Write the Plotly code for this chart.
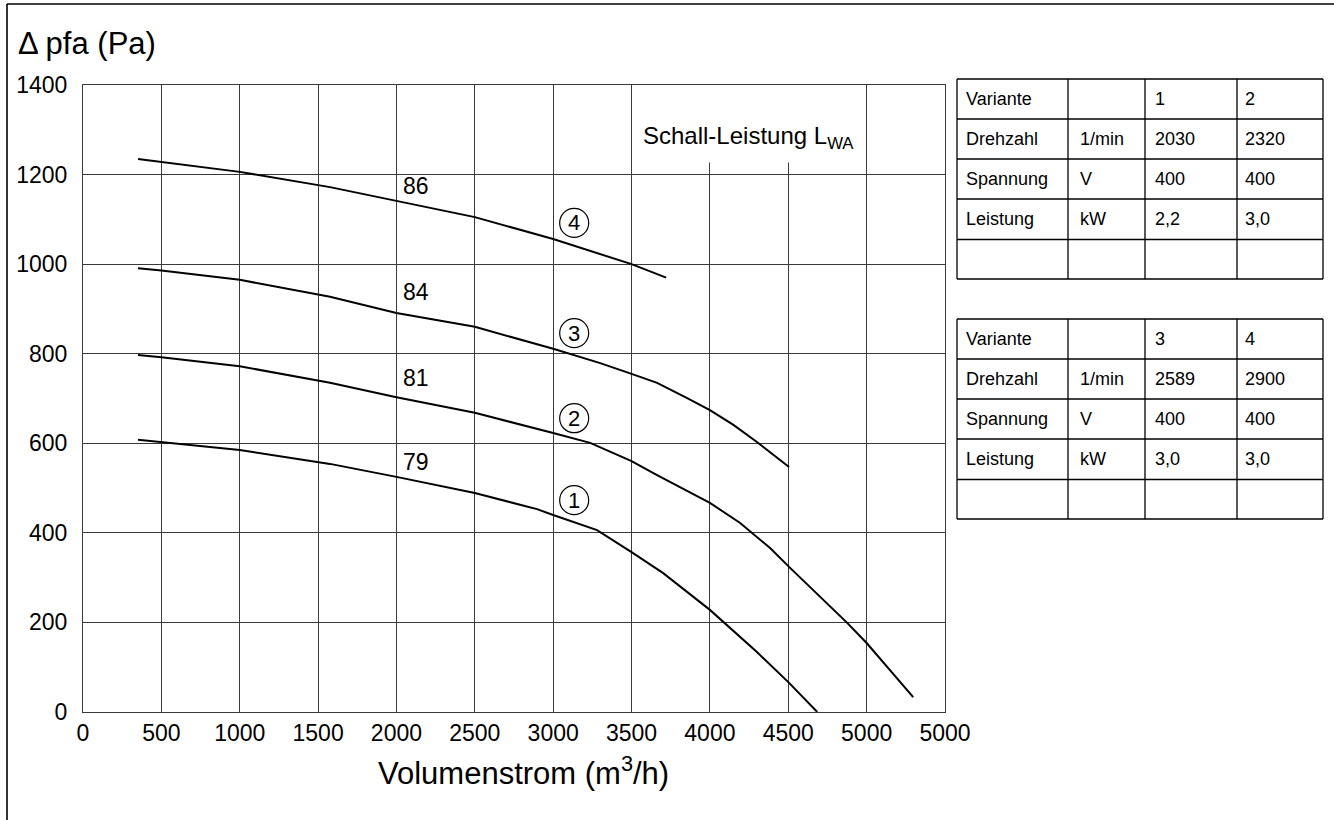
import plotly.graph_objects as go

# ---------------- data ----------------
x_ticks = [0, 500, 1000, 1500, 2000, 2500, 3000, 3500, 4000, 4500, 5000, 5500]
x_ticktext = ["0", "500", "1000", "1500", "2000", "2500", "3000", "3500", "4000", "4500", "5000", "5000"]
y_ticks = [0, 200, 400, 600, 800, 1000, 1200, 1400]

c1_x = [351, 500, 1000, 1576, 2000, 2500, 2897, 3000, 3280, 3500, 3702, 4000, 4300, 4505, 4685]
c1_y = [608, 603, 585, 554, 525, 489, 453, 440, 406, 357, 310, 228, 134, 65, 0]

c2_x = [351, 500, 1000, 1576, 2000, 2500, 3000, 3236, 3500, 3663, 4000, 4193, 4384, 4505, 4876, 5000, 5297]
c2_y = [797, 792, 772, 735, 703, 668, 623, 601, 560, 529, 467, 422, 366, 324, 199, 154, 33]

c3_x = [351, 500, 1000, 1576, 2000, 2500, 3000, 3300, 3500, 3663, 3855, 4000, 4150, 4300, 4505]
c3_y = [991, 986, 965, 927, 891, 860, 811, 779, 755, 735, 701, 674, 641, 603, 547]

c4_x = [351, 500, 1000, 1576, 2000, 2500, 3000, 3300, 3500, 3721]
c4_y = [1235, 1228, 1206, 1172, 1142, 1105, 1056, 1023, 1000, 970]

curve_x = [c1_x, c2_x, c3_x, c4_x]
curve_y = [c1_y, c2_y, c3_y, c4_y]

level_labels = ["79", "81", "84", "86"]
level_x = [2125, 2125, 2125, 2125]
level_y = [558, 746, 938, 1175]

variant_ids = ["1", "2", "3", "4"]
variant_x = [3134, 3134, 3134, 3134]
variant_y = [473, 656, 846, 1092]

row_names = ["Variante", "Drehzahl", "Spannung", "Leistung", ""]
row_units = ["", "1/min", "V", "kW", ""]
table1_v1 = ["1", "2030", "400", "2,2", ""]
table1_v2 = ["2", "2320", "400", "3,0", ""]
table2_v1 = ["3", "2589", "400", "3,0", ""]
table2_v2 = ["4", "2900", "400", "3,0", ""]

FONT = "Liberation Sans, Arial, Helvetica, sans-serif"

# ---------------- layout geometry (pixels) ----------------
W, H = 1334, 820
PL, PR, PT, PB = 83, 945, 85, 712


def px(xp):
    return (xp - PL) / (PR - PL)


def py(yp):
    return (PB - yp) / (PB - PT)


fig = go.Figure()

for cx, cy in zip(curve_x, curve_y):
    fig.add_trace(go.Scatter(x=cx, y=cy, mode="lines",
                             line=dict(color="black", width=2),
                             showlegend=False, hoverinfo="skip"))

shapes = []
annotations = []

# white box behind "Schall-Leistung" label (covers grid lines)
shapes.append(dict(type="rect", xref="x", yref="y", x0=3512, x1=4988, y0=1227, y1=1400,
                   fillcolor="white", line=dict(width=0), layer="between"))

annotations.append(dict(xref="x", yref="y", x=3558, y=1283, xanchor="left", yanchor="middle",
                        text="Schall-Leistung L<sub>WA</sub>", showarrow=False,
                        font=dict(family=FONT, size=24, color="black")))

# level labels
for t, lx, ly in zip(level_labels, level_x, level_y):
    annotations.append(dict(xref="x", yref="y", x=lx, y=ly, text=t, showarrow=False,
                            xanchor="center", yanchor="middle",
                            font=dict(family=FONT, size=23, color="black")))

# circled variant numbers
for t, vx, vy in zip(variant_ids, variant_x, variant_y):
    shapes.append(dict(type="circle", xref="x", yref="y", xsizemode="pixel", ysizemode="pixel",
                       xanchor=vx, yanchor=vy, x0=-14.5, x1=14.5, y0=-14.5, y1=14.5,
                       line=dict(color="black", width=1.2), fillcolor="white", layer="above"))
    annotations.append(dict(xref="x", yref="y", x=vx, y=vy, text=t, showarrow=False,
                            xanchor="center", yanchor="middle",
                            font=dict(family=FONT, size=22, color="black")))

# titles
annotations.append(dict(xref="paper", yref="paper", x=px(16), y=py(44), xanchor="left", yanchor="middle",
                        text="\u0394 pfa (Pa)", showarrow=False,
                        font=dict(family=FONT, size=31, color="black")))
annotations.append(dict(xref="paper", yref="paper", x=px(523), y=py(771), xanchor="center", yanchor="middle",
                        text="Volumenstrom (m<sup>3</sup>/h)", showarrow=False,
                        font=dict(family=FONT, size=31, color="black")))

# outer border (top and left)
shapes.append(dict(type="line", xref="paper", yref="paper", x0=px(7), x1=px(1340), y0=py(4), y1=py(4),
                   line=dict(color="black", width=1.6)))
shapes.append(dict(type="line", xref="paper", yref="paper", x0=px(7), x1=px(7), y0=py(4), y1=py(830),
                   line=dict(color="black", width=1.6)))

# tables
col_x = [957, 1068, 1145, 1237, 1323]
text_off = [7, 10, 8, 6]
row_h = [40, 40, 40, 40.5, 39.5]


def add_table(top, v1, v2):
    ys = [top]
    for h in row_h:
        ys.append(ys[-1] + h)
    for yv in ys:
        shapes.append(dict(type="line", xref="paper", yref="paper", x0=px(col_x[0]), x1=px(col_x[-1]),
                           y0=py(yv), y1=py(yv), line=dict(color="black", width=1.3)))
    for xv in col_x:
        shapes.append(dict(type="line", xref="paper", yref="paper", x0=px(xv), x1=px(xv),
                           y0=py(ys[0]), y1=py(ys[-1]), line=dict(color="black", width=1.3)))
    cols = [row_names, row_units, v1, v2]
    for ci, col in enumerate(cols):
        for ri, val in enumerate(col):
            if not val:
                continue
            yc = (ys[ri] + ys[ri + 1]) / 2
            annotations.append(dict(xref="paper", yref="paper", x=px(col_x[ci] + text_off[ci]), y=py(yc),
                                    xanchor="left", yanchor="middle", text=val, showarrow=False,
                                    font=dict(family=FONT, size=18, color="black")))


add_table(79, table1_v1, table1_v2)
add_table(319, table2_v1, table2_v2)

fig.update_layout(
    width=W, height=H, autosize=False,
    margin=dict(l=PL, r=W - PR, t=PT, b=H - PB),
    paper_bgcolor="white", plot_bgcolor="white",
    shapes=shapes, annotations=annotations,
    font=dict(family=FONT, color="black"),
    xaxis=dict(range=[0, 5500], tickmode="array", tickvals=x_ticks, ticktext=x_ticktext,
               showgrid=True, gridcolor="#3a3a3a", gridwidth=1, zeroline=False,
               showline=True, mirror=True, linecolor="#3a3a3a", linewidth=1.2,
               ticks="", tickfont=dict(family=FONT, size=23, color="black"), fixedrange=True),
    yaxis=dict(range=[0, 1400], tickmode="array", tickvals=y_ticks,
               showgrid=True, gridcolor="#3a3a3a", gridwidth=1, zeroline=False,
               showline=True, mirror=True, linecolor="#3a3a3a", linewidth=1.2,
               ticks="", tickfont=dict(family=FONT, size=23, color="black"),
               ticklabelstandoff=10, fixedrange=True),
)

fig.write_html("out.html", config={"displayModeBar": False},
               post_script="document.body.style.margin='0px';document.body.style.overflow='hidden';")
